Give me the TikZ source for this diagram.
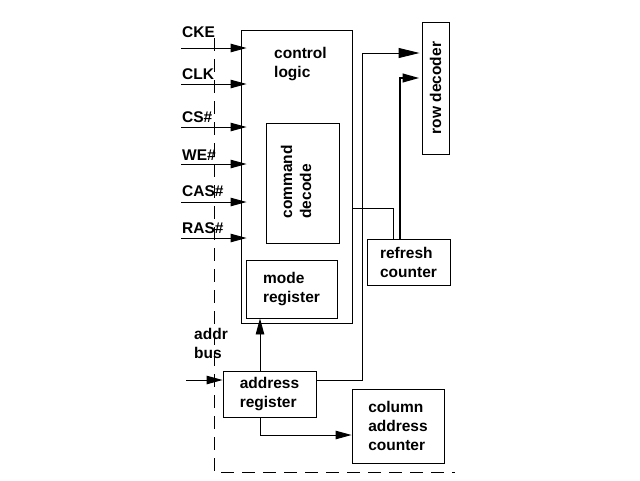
\documentclass[tikz,border=0pt]{standalone}
\usepackage{fontspec}
\setmainfont{Liberation Sans}
\usetikzlibrary{arrows.meta,positioning,calc}
\newcommand{\dfont}{\fontsize{15.5}{19}\selectfont\bfseries}
\tikzset{
  blk/.style={draw=black, line width=0.9pt, align=left, inner sep=0pt, font=\dfont},
  txt/.style={align=left, inner sep=0pt, font=\dfont},
  siglab/.style={anchor=base west, inner sep=0pt, font=\dfont},
  arr/.style={-{Stealth[length=16pt, width=8.5pt, inset=0pt]}, line width=0.9pt},
  sigarr/.style={arr, shorten >=-6pt},
  wire/.style={line width=0.9pt},
  fatarr/.style={-{Stealth[length=17pt, width=8.5pt, inset=0pt]}, line width=2.5pt},
  bnd/.style={line width=0.9pt, dash pattern=on 13pt off 8pt},
}
\begin{document}
\begin{tikzpicture}[x=1pt, y=-1pt]
    \useasboundingbox (0,0) rectangle (640,480);
    \draw[bnd] (214,38) -- (214,472) -- (455,472);
    \node[blk, minimum width=111pt, minimum height=293pt] (ctrl) at (296.5,176.5) {};
    \node[txt, anchor=north west] (ctrltxt) at (274,47) {control\\logic};
    \node[blk, minimum width=73pt, minimum height=120pt] (cmd) at (302.5,183) {};
    \node[txt, rotate=90] (cmdtxt) at (296,182) {command\\decode};
    \node[blk, minimum width=91pt, minimum height=58pt] (mode) at (291.5,289) {mode\\register};
    \node[blk, minimum width=27pt, minimum height=132pt] (rowdec) at (435.5,88)
         {\rotatebox{90}{row decoder}};
    \node[blk, minimum width=83pt, minimum height=46pt] (refresh) at (408.5,262)
         {refresh\\counter};
    \node[blk, minimum width=93pt, minimum height=46pt] (addr) at (269.5,394)
         {address\\register};
    \node[blk, minimum width=92pt, minimum height=74pt] (col) at (398,426)
         {column\\address\\counter};
    \coordinate (ckein) at (181,48);  \coordinate (clkin) at (181,84);
    \coordinate (csin) at (181,127);  \coordinate (wein) at (181,164);
    \coordinate (casin) at (181,202); \coordinate (rasin) at (181,238);
    \draw[sigarr] (ckein) -- (ckein -| ctrl.west);
    \draw[sigarr] (clkin) -- (clkin -| ctrl.west);
    \draw[sigarr] (csin) -- (csin -| ctrl.west);
    \draw[sigarr] (wein) -- (wein -| ctrl.west);
    \draw[sigarr] (casin) -- (casin -| ctrl.west);
    \draw[sigarr] (rasin) -- (rasin -| ctrl.west);
    \node[siglab] (ckelab) at (182,37) {CKE};
    \node[siglab] (clklab) at (182,79) {CLK};
    \node[siglab] (cslab) at (182,122) {CS\#};
    \node[siglab] (welab) at (182,160) {WE\#};
    \node[siglab] (caslab) at (182,196) {CAS\#};
    \node[siglab] (raslab) at (182,233) {RAS\#};
    \coordinate (busin) at (186,380);
    \draw[arr] (busin) -- (busin -| addr.west);
    \node[txt, anchor=north west] (buslab) at (194,328) {addr\\bus};
    \draw[arr, shorten >=-5pt] ([xshift=-9.5pt]addr.north) -- ([xshift=-9.5pt]addr.north |- ctrl.south);
    \draw[arr] ([xshift=-9.5pt]addr.south) |- ([yshift=-9pt]col.west);
    \coordinate (rowtop) at ([yshift=35pt]rowdec.west);
    \coordinate (rowlow) at ([yshift=10pt]rowdec.west);
    \draw[wire, -{Stealth[length=21pt, width=10pt, inset=0pt]}, shorten >=2pt]
         ([yshift=14pt]addr.east) -| ($(rowtop)+(-59,0)$) -- (rowtop);
    \draw[wire] ([yshift=-31.5pt]ctrl.east) -| ([xshift=-15.5pt]refresh.north);
    \draw[fatarr, shorten >=2pt] ([xshift=-8.5pt]refresh.north) |- (rowlow);
\end{tikzpicture}
\end{document}
